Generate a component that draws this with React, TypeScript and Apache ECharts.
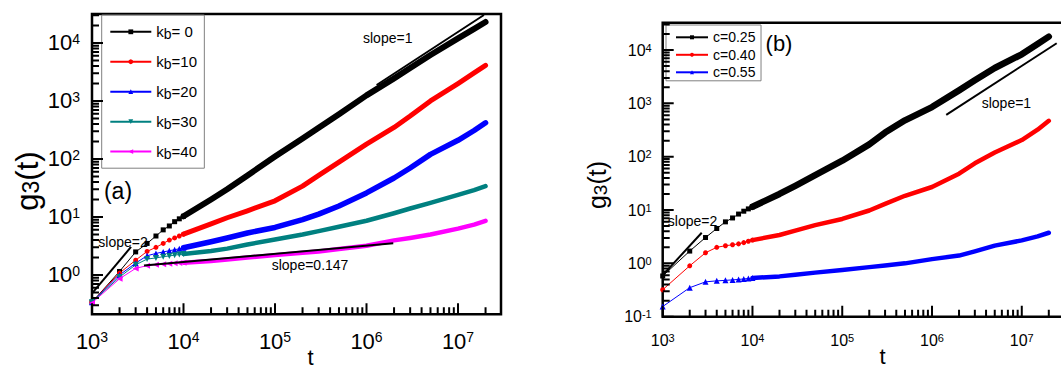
import React, { useEffect, useRef } from "react";
import * as echarts from "echarts";

const FONT = "'Liberation Sans', Arial, Helvetica, sans-serif";

// sampled times
const tEarly = [1000, 2000, 3000, 4000, 5000, 6000, 7000, 8000, 9000, 10000];
const tLate = [2e4, 3e4, 5e4, 1e5, 2e5, 3e5, 5e5, 1e6, 2e6, 3e6, 5e6, 1e7, 1.5e7, 2e7];

// ---------- panel (a) ----------
const aNames = ["kb= 0", "kb=10", "kb=20", "kb=30", "kb=40"];
const aColors = ["#000000", "#ff0000", "#0000ff", "#008080", "#ff00ff"];
const aSymbols = ["rect", "circle", "triangle", "triangle", "triangle"];
const aRotates = [0, 0, 0, 180, 90];
const aSizes = [5, 5, 6, 6, 6];
const aBandWidths = [6, 5, 5.5, 4.5, 4.5];

const aKb0Early = [0.34, 1.15, 2.5, 3.5, 4.7, 6.0, 7.0, 8.3, 9.3, 10.3];
const aKb10Early = [0.34, 1.08, 1.8, 2.55, 3.0, 3.5, 4.0, 4.35, 4.7, 5.05];
const aKb20Early = [0.34, 1.0, 1.6, 2.15, 2.35, 2.5, 2.62, 2.73, 2.83, 2.95];
const aKb30Early = [0.34, 0.92, 1.5, 1.88, 1.97, 2.07, 2.13, 2.2, 2.25, 2.3];
const aKb40Early = [0.33, 0.86, 1.3, 1.45, 1.5, 1.53, 1.56, 1.59, 1.61, 1.63];

const aKb0Late = [20, 30, 52, 110, 225, 345, 590, 1250, 2450, 3700, 6200, 12000, 17500, 23000];
const aKb10Late = [7.6, 9.7, 12.8, 19, 34, 52, 88, 180, 350, 550, 1000, 2000, 3050, 4100];
const aKb20Late = [3.75, 4.35, 5.3, 6.6, 9, 11.2, 15.5, 26, 47, 70, 120, 210, 310, 420];
const aKb30Late = [2.6, 2.85, 3.35, 4.1, 5.0, 5.7, 6.8, 8.6, 11.6, 14, 17.5, 24, 29, 34];
const aKb40Late = [1.75, 1.85, 2.0, 2.2, 2.42, 2.55, 2.8, 3.2, 3.95, 4.35, 5.0, 6.3, 7.4, 8.6];

const aSlope2 = [[1000, 0.48], [2670, 3.04]];
const aSlope0147 = [[3700, 1.46], [1.96e6, 3.52]];
const aSlope1 = [[1.29e6, 1888], [1.92e7, 30400]];

// ---------- panel (b) ----------
const bNames = ["c=0.25", "c=0.40", "c=0.55"];
const bColors = ["#000000", "#ff0000", "#0000ff"];
const bSymbols = ["rect", "circle", "triangle"];
const bRotates = [0, 0, 0];
const bSizes = [5, 5, 6];
const bBandWidths = [6.5, 4.5, 4.5];

const bC25Early = [0.58, 1.7, 3.05, 4.5, 6.0, 7.1, 8.4, 9.5, 10.5, 11.5];
const bC40Early = [0.32, 0.9, 1.58, 2.0, 2.14, 2.23, 2.32, 2.45, 2.6, 2.73];
const bC55Early = [0.155, 0.35, 0.45, 0.47, 0.48, 0.49, 0.5, 0.51, 0.52, 0.53];

const bC25Late = [20, 28.5, 45, 84, 170, 283, 480, 850, 1750, 2700, 4600, 8300, 13000, 17800];
const bC40Late = [3.4, 4.1, 5.2, 6.8, 9.8, 13, 18.5, 27, 48, 75, 120, 205, 320, 470];
const bC55Late = [0.57, 0.61, 0.67, 0.75, 0.85, 0.91, 1.0, 1.2, 1.4, 1.68, 2.15, 2.7, 3.2, 3.75];

const bSlope2 = [[1000, 0.6], [2720, 3.75]];
const bSlope1 = [[1.44e6, 606], [2.45e7, 13400]];

// axis ranges
const aX = [1000, 2.95e7];
const aY = [0.21, 31600];
const bX = [1000, 3.03e7];
const bY = [0.1, 32500];

// tick mantissas and decades
const mantissas = [1, 2, 3, 4, 5, 6, 7, 8, 9];
const xDecades = [3, 4, 5, 6, 7];
const yDecades = [-1, 0, 1, 2, 3, 4];

// grid boxes (px offsets inside the 1061x369 canvas)
const W = 1061;
const H = 369;
const gridA = { left: 92, top: 14, right: 560, bottom: 54.7 };
const gridB = { left: 662.7, top: 22.7, right: -4, bottom: 52.3 };

const MAJOR = 11;
const MINOR = 7;

function zip(t: number[], v: number[]) {
  return t.map((x, i) => [x, v[i]]);
}

function tickValues(decades: number[], range: number[]) {
  const out: number[][] = [];
  for (const d of decades)
    for (const m of mantissas) {
      const v = m * Math.pow(10, d);
      if (v >= range[0] * 0.9999 && v <= range[1]) out.push([v, m === 1 ? 1 : 0]);
    }
  return out;
}

// Tick marks: short segments placed through the axes' own log scales.
function tickSeries(idx: number, g: any, xr: number[], yr: number[]) {
  const pxPerDecX = (W - g.left - g.right) / Math.log10(xr[1] / xr[0]);
  const pxPerDecY = (H - g.top - g.bottom) / Math.log10(yr[1] / yr[0]);
  const out: any[] = [];
  const mk = (data: number[][]) => ({
    type: "line",
    xAxisIndex: idx,
    yAxisIndex: idx,
    data,
    symbol: "none",
    showSymbol: false,
    lineStyle: { color: "#000", width: 2 },
    silent: true,
    z: 4,
  });
  for (const [v, major] of tickValues(xDecades, xr)) {
    const len = major ? MAJOR : MINOR;
    out.push(mk([[v, yr[0] * 1.0001], [v, yr[0] * Math.pow(10, len / pxPerDecY)]]));
  }
  for (const [v, major] of tickValues(yDecades, yr)) {
    const len = major ? MAJOR : MINOR;
    out.push(mk([[xr[0] * 1.0001, v], [xr[0] * Math.pow(10, len / pxPerDecX), v]]));
  }
  return out;
}

function curveSeries(
  idx: number,
  name: string,
  color: string,
  symbol: string,
  rotate: number,
  size: number,
  bandWidth: number,
  early: number[],
  late: number[]
) {
  const last = early.length - 1;
  return [
    {
      type: "line",
      name,
      xAxisIndex: idx,
      yAxisIndex: idx,
      data: zip(tEarly, early),
      symbol,
      symbolSize: size,
      symbolRotate: rotate,
      showSymbol: true,
      showAllSymbol: true,
      lineStyle: { color, width: 1 },
      itemStyle: { color },
      silent: true,
      z: 3,
    },
    {
      type: "line",
      name: name + " band",
      xAxisIndex: idx,
      yAxisIndex: idx,
      data: [[tEarly[last], early[last]], ...zip(tLate, late)],
      symbol: "none",
      showSymbol: false,
      lineStyle: { color, width: bandWidth, cap: "round", join: "round" },
      itemStyle: { color },
      silent: true,
      z: 3,
    },
  ];
}

function refLine(idx: number, data: number[][]) {
  return {
    type: "line",
    xAxisIndex: idx,
    yAxisIndex: idx,
    data,
    symbol: "none",
    showSymbol: false,
    lineStyle: { color: "#000", width: 2 },
    silent: true,
    z: 4,
  };
}

function powLabel(base: number, sup: number, lh: number, margin: number) {
  return {
    margin,
    formatter: (v: number) => {
      const e = Math.log10(v);
      const r = Math.round(e);
      if (Math.abs(e - r) > 1e-4) return "";
      return `{b|10}{s|${r}}`;
    },
    rich: {
      b: { fontSize: base, lineHeight: base, fontFamily: FONT, color: "#000", verticalAlign: "middle" },
      s: { fontSize: sup, lineHeight: lh, fontFamily: FONT, color: "#000", verticalAlign: "top" },
    },
  };
}

function logAxis(idx: number, range: number[], label: any) {
  return {
    type: "log",
    gridIndex: idx,
    min: range[0],
    max: range[1],
    axisLine: { show: false },
    axisTick: { show: false },
    splitLine: { show: false },
    axisLabel: label,
  };
}

function textEl(x: number, y: number, text: string, size: number, align = "left") {
  return {
    type: "text",
    x,
    y,
    silent: true,
    style: {
      text,
      fontSize: size,
      fontFamily: FONT,
      fill: "#000",
      align,
      verticalAlign: "middle",
    },
  };
}

function g3Label(x: number, y: number, big: number, small: number, lh: number) {
  return {
    type: "text",
    x,
    y,
    rotation: Math.PI / 2,
    silent: true,
    style: {
      text: "{g|g}{s|3}{g|(t)}",
      align: "center",
      verticalAlign: "middle",
      fill: "#000",
      rich: {
        g: { fontSize: big, lineHeight: big, fontFamily: FONT, color: "#000", verticalAlign: "middle" },
        s: { fontSize: small, lineHeight: lh, fontFamily: FONT, color: "#000", verticalAlign: "bottom" },
      },
    },
  };
}

export default function App() {
  const ref = useRef<HTMLDivElement>(null);

  useEffect(() => {
    if (!ref.current) return;
    const chart = echarts.init(ref.current, null, { renderer: "svg" });

    const aEarly = [aKb0Early, aKb10Early, aKb20Early, aKb30Early, aKb40Early];
    const aLate = [aKb0Late, aKb10Late, aKb20Late, aKb30Late, aKb40Late];
    const bEarly = [bC25Early, bC40Early, bC55Early];
    const bLate = [bC25Late, bC40Late, bC55Late];

    const series: any[] = [];
    series.push(...tickSeries(0, gridA, aX, aY), ...tickSeries(1, gridB, bX, bY));
    aNames.forEach((n, i) =>
      series.push(...curveSeries(0, n, aColors[i], aSymbols[i], aRotates[i], aSizes[i], aBandWidths[i], aEarly[i], aLate[i]))
    );
    bNames.forEach((n, i) =>
      series.push(...curveSeries(1, n, bColors[i], bSymbols[i], bRotates[i], bSizes[i], bBandWidths[i], bEarly[i], bLate[i]))
    );
    series.push(refLine(0, aSlope2), refLine(0, aSlope0147), refLine(0, aSlope1));
    series.push(refLine(1, bSlope2), refLine(1, bSlope1));

    const gridStyle = {
      show: true, borderColor: "#000", borderWidth: 2.5, backgroundColor: "transparent",
      containLabel: false, outerBoundsMode: "none",
    };

    const option: any = {
      animation: false,
      backgroundColor: "#fff",
      grid: [
        { ...gridA, ...gridStyle },
        { ...gridB, ...gridStyle },
      ],
      xAxis: [
        logAxis(0, aX, powLabel(22, 14, 10, 16)),
        logAxis(1, bX, powLabel(16, 11, 4, 16)),
      ],
      yAxis: [
        logAxis(0, aY, powLabel(22, 14, 10, 12)),
        logAxis(1, bY, powLabel(16, 11, 4, 11)),
      ],
      legend: [
        {
          data: aNames,
          left: 101.7,
          top: 15,
          orient: "vertical",
          itemWidth: 41,
          itemHeight: 6,
          itemGap: 13.45,
          padding: [9.3, 7.3, 7.6, 7.6],
          borderColor: "#808080",
          borderWidth: 1,
          formatter: (n: string) => `{k|k}{b|b}{k|${n.slice(2)}}`,
          textStyle: {
            color: "#000",
            rich: {
              k: { fontSize: 15, lineHeight: 18, fontFamily: FONT, color: "#000", verticalAlign: "middle" },
              b: { fontSize: 14, lineHeight: 8, fontFamily: FONT, color: "#000", verticalAlign: "bottom" },
            },
          },
        },
        {
          data: bNames,
          left: 666,
          top: 25,
          orient: "vertical",
          itemWidth: 32,
          itemHeight: 5,
          itemGap: 2.5,
          padding: [4.8, 5.6, 1, 9],
          borderColor: "#808080",
          borderWidth: 1,
          textStyle: { color: "#000", fontSize: 14, lineHeight: 15, fontFamily: FONT },
        },
      ],
      series,
    };

    chart.setOption(option);
    chart.getOption();
    chart.setOption({
      graphic: [
        textEl(363, 38.3, "slope=1", 14),
        textEl(98.3, 241.7, "slope=2", 14),
        textEl(271.7, 265, "slope=0.147", 14),
        textEl(118, 191, "(a)", 23, "center"),
        textEl(981.7, 102.7, "slope=1", 14),
        textEl(667.8, 220.7, "slope=2", 14),
        textEl(779, 43.3, "(b)", 22, "center"),
        textEl(310.6, 357, "t", 22, "center"),
        textEl(882.5, 356, "t", 22, "center"),
        g3Label(27, 181, 31, 23, 21),
        g3Label(597, 185, 25, 19, 17),
      ],
    });
    return () => chart.dispose();
  }, []);

  return (
    <div
      ref={ref}
      style={{ position: "fixed", left: 0, top: 0, width: 1061, height: 369, background: "#fff" }}
    />
  );
}
